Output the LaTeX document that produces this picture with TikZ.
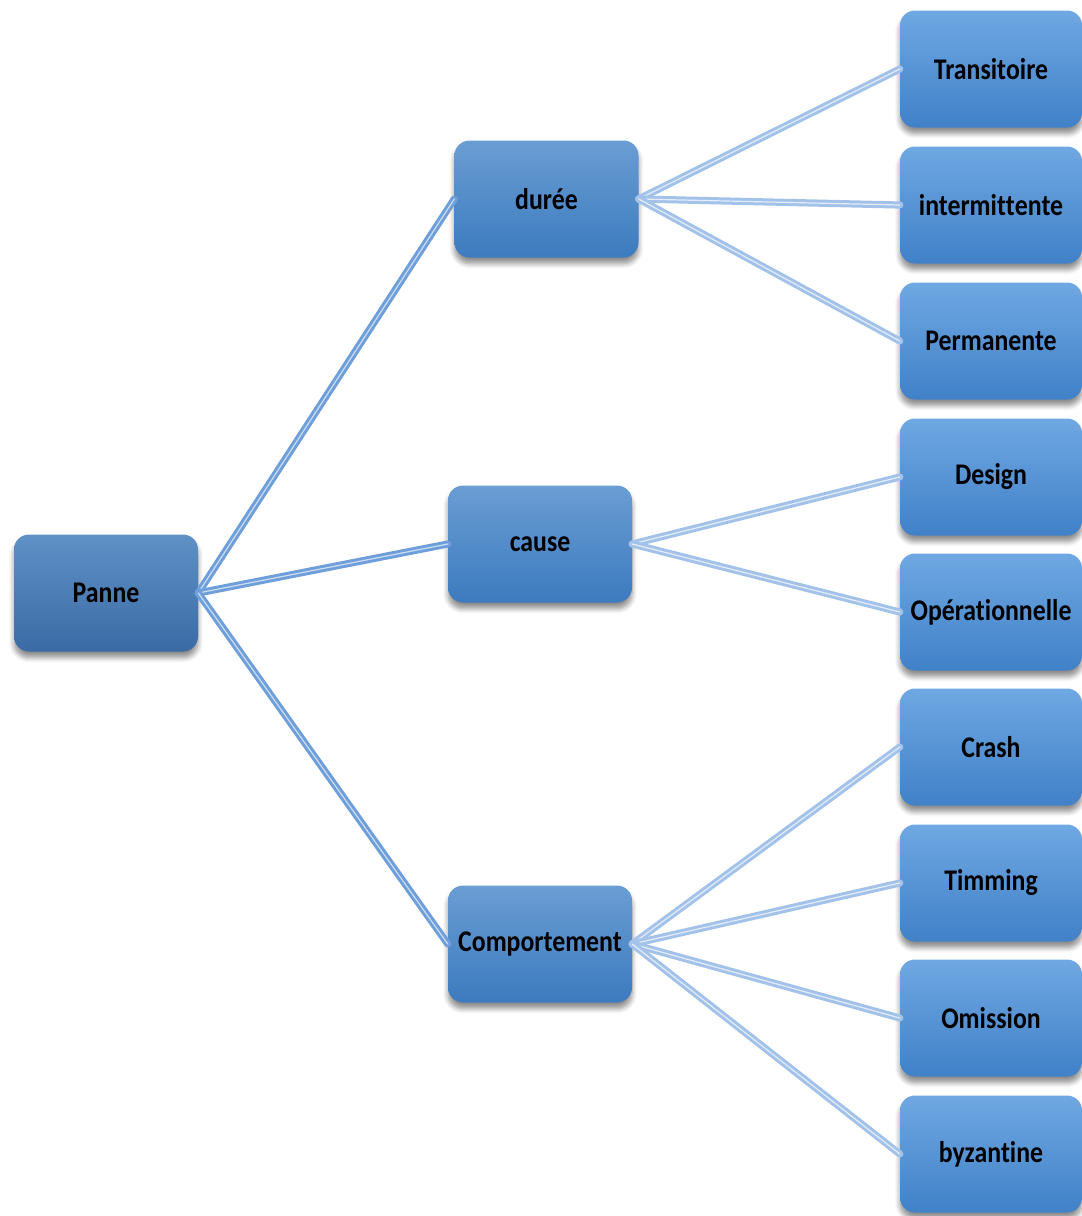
\documentclass[tikz,border=0pt]{standalone}
\usepackage{fontspec}
\newfontfamily\boxfont[FakeStretch=0.86,Ligatures={NoCommon,NoContextual}]{Carlito}
\usetikzlibrary{shadows.blur}
% break the t+i / t+t letter pairs so they are set as separate glyphs
\newcommand\nolig{\kern0pt\relax}
\definecolor{rootTop}{HTML}{5F90C6}
\definecolor{rootBot}{HTML}{3A6BA4}
\definecolor{midTop}{HTML}{6A9DD3}
\definecolor{midBot}{HTML}{3C7BBF}
\definecolor{leafTop}{HTML}{6FA8E2}
\definecolor{leafBot}{HTML}{4081C8}
\definecolor{linkDark}{HTML}{6E9FDA}
\definecolor{linkLight}{HTML}{A3C2EA}
\tikzset{
  box/.style={rectangle, rounded corners=15pt, minimum height=117pt,
    inner sep=0pt, font=\boxfont\bfseries\fontsize{30}{34}\selectfont,
    text=black,
    blur shadow={shadow xshift=0pt, shadow yshift=-6pt, shadow blur steps=6,
      shadow blur radius=5pt, shadow opacity=45}},
  rootbox/.style={box, minimum width=184pt, top color=rootTop, bottom color=rootBot},
  midbox/.style={box, minimum width=184pt, top color=midTop, bottom color=midBot},
  leafbox/.style={box, minimum width=182pt, top color=leafTop, bottom color=leafBot},
  link/.style={line width=3pt, double distance=1.2pt, line cap=round},
  darklink/.style={link, draw=linkDark, double=white!65!linkDark},
  lightlink/.style={link, draw=linkLight, double=white!70!linkLight},
}
\begin{document}
\begin{tikzpicture}[x=1pt,y=-1pt]
\useasboundingbox (0,0) rectangle (1082,1216);

% root and first level
\node[rootbox] (panne) at (106,593) {Panne};
\node[midbox] (duree) at (546.5,199) {durée};
\node[midbox] (cause) at (540,544) {cause};
\node[midbox] (comp) at (540,944) {Comportement};

% leaves
\node[leafbox] (trans) at (991,69) {Transit\nolig oire};
\node[leafbox] (inter) at (991,205) {intermit\nolig t\nolig ente};
\node[leafbox] (perm) at (991,341) {Permanente};
\node[leafbox] (design) at (991,477) {Design};
\node[leafbox] (oper) at (991,612) {Opérat\nolig ionnelle};
\node[leafbox] (crash) at (991,747) {Crash};
\node[leafbox] (timm) at (991,883) {Timming};
\node[leafbox] (omis) at (991,1018) {Omission};
\node[leafbox] (byz) at (991,1154) {byzant\nolig ine};

% connectors
\draw[darklink] (panne.east) -- (duree.west);
\draw[darklink] (panne.east) -- (cause.west);
\draw[darklink] (panne.east) -- (comp.west);

\draw[lightlink] (duree.east) -- (trans.west);
\draw[lightlink] (duree.east) -- (inter.west);
\draw[lightlink] (duree.east) -- (perm.west);

\draw[lightlink] (cause.east) -- (design.west);
\draw[lightlink] (cause.east) -- (oper.west);

\draw[lightlink] (comp.east) -- (crash.west);
\draw[lightlink] (comp.east) -- (timm.west);
\draw[lightlink] (comp.east) -- (omis.west);
\draw[lightlink] (comp.east) -- (byz.west);
\end{tikzpicture}
\end{document}
